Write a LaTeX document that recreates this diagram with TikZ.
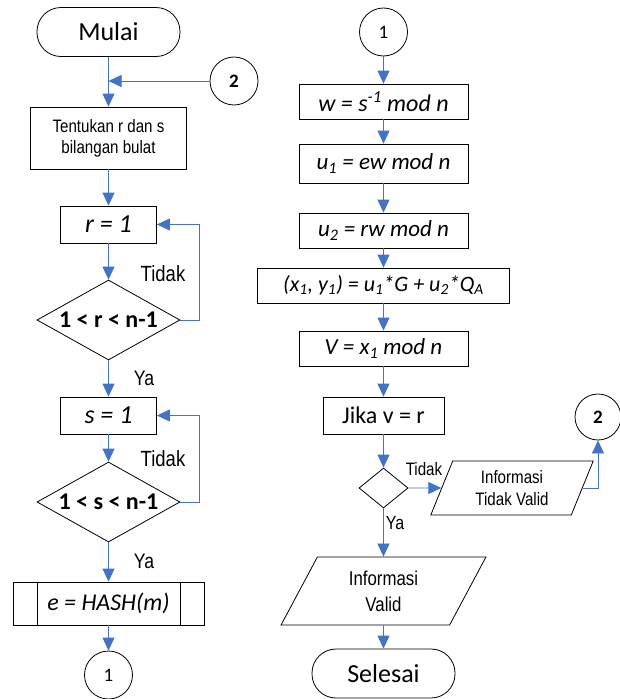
\documentclass[tikz,border=0pt]{standalone}
\usepackage{fontspec}
\setmainfont{Carlito}
\newfontfamily\narrowfont[FakeStretch=0.84]{Liberation Sans}
\usetikzlibrary{shapes.geometric,arrows.meta}
\definecolor{alurbiru}{HTML}{4472C4}

\begin{document}
\begin{tikzpicture}[x=1pt,y=-1pt,
		every node/.style={inner sep=0pt},
		garis/.style={draw=black, line width=0.8pt},
		terminal/.style={garis, rectangle, rounded corners=24pt, minimum width=143pt, minimum height=49pt, font=\fontsize{26}{30}\selectfont},
		proses/.style={garis, rectangle, minimum width=169pt, minimum height=35pt, font=\fontsize{23}{27}\selectfont\itshape},
		subproses/.style={proses, path picture={
				\draw[line width=0.8pt] ([xshift=24pt]path picture bounding box.north west) -- ([xshift=24pt]path picture bounding box.south west);
				\draw[line width=0.8pt] ([xshift=-24pt]path picture bounding box.north east) -- ([xshift=-24pt]path picture bounding box.south east);}},
		keputusan/.style={garis, diamond, aspect=1.8, font=\fontsize{24}{28}\selectfont\bfseries},
		data/.style={garis, trapezium, trapezium stretches=true, align=center, font=\narrowfont\fontsize{18}{22}\selectfont},
		konektor/.style={garis, circle, minimum size=48pt, font=\fontsize{19}{23}\selectfont},
		ket/.style={font=\narrowfont\fontsize{21}{25}\selectfont},
		alur/.style={draw=alurbiru, line width=0.8pt, -{Triangle[width=12pt,length=13pt]}}
	]
	\useasboundingbox (0,0) rectangle (619,699);
	
	% kolom kiri
	\node[terminal] (mulai) at (108.5,32) {Mulai};
	\node[konektor, font=\fontsize{19}{23}\selectfont\bfseries] (dua) at (234,81) {2};
	\coordinate (gabung) at (108.5,81);
	\node[proses, minimum width=156pt, minimum height=62pt, align=center, font=\narrowfont\fontsize{18}{21}\selectfont] (tentukan) at (108.5,138) {Tentukan r dan s\\bilangan bulat};
	\node[proses, minimum width=96pt, minimum height=37pt, font=\fontsize{26}{30}\selectfont\itshape] (rsatu) at (108.5,224.5) {r = 1};
	\node[keputusan, minimum width=143pt, minimum height=80pt] (cekr) at (108.5,320) {1 < r < n-1};
	\node[proses, minimum width=96pt, minimum height=37pt, font=\fontsize{26}{30}\selectfont\itshape] (ssatu) at (108.5,415.5) {s = 1};
	\node[keputusan, minimum width=143pt, minimum height=80pt] (ceks) at (108.5,502) {1 < s < n-1};
	\node[subproses, minimum width=191pt, minimum height=43pt, font=\fontsize{24}{28}\selectfont\itshape] (hash) at (108.5,603.5) {e = HASH(m)};
	\node[konektor] (satu) at (108.5,675) {1};
	
	\node[ket, font=\narrowfont\fontsize{22}{26}\selectfont] (tidakr) at (163,274) {Tidak};
	\node[ket] (yar) at (144,378) {Ya};
	\node[ket, font=\narrowfont\fontsize{22}{26}\selectfont] (tidaks) at (163,459) {Tidak};
	\node[ket] (yas) at (144,561) {Ya};
	
	% kolom kanan
	\node[konektor] (satub) at (383.5,32) {1};
	\node[proses, font=\fontsize{24}{28}\selectfont\itshape] (hitungw) at (383.5,101.5) {w = s\textsuperscript{-1} mod n};
	\node[proses, minimum height=39pt] (hitungua) at (383.5,163.5) {u\textsubscript{1} = ew mod n};
	\node[proses] (hitungub) at (383.5,230.5) {u\textsubscript{2} = rw mod n};
	\node[proses, minimum width=252pt, font=\fontsize{22}{26}\selectfont\itshape] (titik) at (383.5,285.5) {(x\textsubscript{1}, y\textsubscript{1}) = u\textsubscript{1}*G + u\textsubscript{2}*Q\textsubscript{A}};
	\node[proses] (hitungv) at (383.5,348.5) {V = x\textsubscript{1} mod n};
	\node[proses, minimum width=121pt, minimum height=37pt, font=\fontsize{24}{28}\selectfont] (jika) at (383.5,415.5) {Jika v = r};
	\node[keputusan, aspect=1.2, minimum width=49pt, minimum height=40pt] (cekv) at (383.5,488) {};
	\node[data, trapezium left angle=69, trapezium right angle=111, minimum width=164pt, minimum height=54pt] (tidakvalid) at (512,488) {Informasi\\Tidak Valid};
	\node[konektor, font=\fontsize{19}{23}\selectfont\bfseries, minimum size=46pt] (duab) at (598,417) {2};
	\node[data, trapezium left angle=65, trapezium right angle=115, minimum width=205pt, minimum height=68pt, font=\narrowfont\fontsize{20}{26}\selectfont] (valid) at (383.5,591) {Informasi\\Valid};
	\node[terminal] (selesai) at (383.5,673.5) {Selesai};
	
	\node[ket, font=\narrowfont\fontsize{18}{22}\selectfont] (tidakv) at (424,469) {Tidak};
	\node[ket, font=\narrowfont\fontsize{19}{23}\selectfont] (yav) at (395,523) {Ya};
	
	% panah
	\path
	(mulai) edge[alur] (tentukan)
	(dua) edge[alur] (gabung)
	(tentukan) edge[alur] (rsatu)
	(rsatu) edge[alur] (cekr)
	(cekr) edge[alur] (ssatu)
	(ssatu) edge[alur] (ceks)
	(ceks) edge[alur] (hash)
	(hash) edge[alur] (satu)
	(satub) edge[alur] (hitungw)
	(hitungw) edge[alur] (hitungua)
	(hitungua) edge[alur] (hitungub)
	(hitungub) edge[alur] (titik)
	(titik) edge[alur] (hitungv)
	(hitungv) edge[alur] (jika)
	(jika) edge[alur] (cekv)
	(cekv) edge[alur] (valid)
	(valid) edge[alur] (selesai)
	(cekv) edge[alur] (tidakvalid);
	
	\draw[alur] (cekr.east) -- ++(19,0) |- (rsatu.east);
	\draw[alur] (ceks.east) -- ++(19,0) |- (ssatu.east);
	\draw[alur] (tidakvalid.east) -| (duab.south);
\end{tikzpicture}
\end{document}
